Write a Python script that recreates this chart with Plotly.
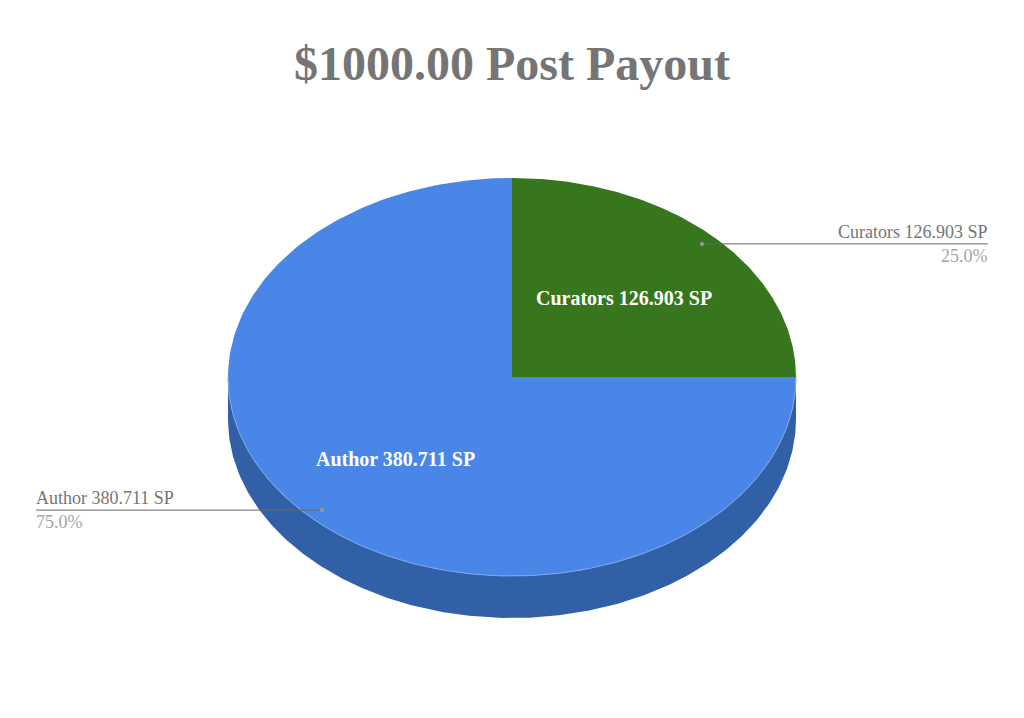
import numpy as np
import plotly.graph_objects as go

title = "$1000.00 Post Payout"
labels = ["Curators", "Author"]
values = [126.903, 380.711]
unit = "SP"

# colours per slice, same order as labels
colors = ["#38761d", "#4a86e8"]
wall_color = "#3160a6"
edge_color = "#7ea8ee"
FONT = "Liberation Serif"

# the pie is drawn by hand because go.Pie can't do the squashed 3d look
WIDTH, HEIGHT = 1024, 718
CX, CY = 512, 377
RX, RY = 284, 199
DEPTH = 42


def arc(start, end, dy=0):
    """Points on the ellipse, angles in degrees clockwise from 12 o'clock"""
    t = np.radians(np.linspace(start, end, 240))
    return CX + RX * np.sin(t), CY - RY * np.cos(t) + dy


def at_angle(angle, frac):
    t = np.radians(angle)
    return CX + RX * frac * np.sin(t), CY - RY * frac * np.cos(t)


fig = go.Figure()

# side wall, only the front half is visible
bx, by = arc(90, 270, DEPTH)
tx, ty = arc(270, 90)
fig.add_trace(go.Scatter(
    x=np.concatenate([bx, tx]), y=np.concatenate([by, ty]),
    mode="lines", fill="toself", fillcolor=wall_color,
    line=dict(width=0), hoverinfo="skip",
))

total = sum(values)
shares = [v / total for v in values]
start = 0
mids = []
for label, value, share, color in zip(labels, values, shares, colors):
    end = start + share * 360
    ax, ay = arc(start, end)
    fig.add_trace(go.Scatter(
        x=np.concatenate([[CX], ax, [CX]]), y=np.concatenate([[CY], ay, [CY]]),
        mode="lines", fill="toself", fillcolor=color,
        line=dict(width=0), name=label,
        hovertemplate=f"{label} {value} {unit}<br>{share:.1%}<extra></extra>",
    ))
    mids.append((start + end) / 2)
    start = end

# thin light rim where the top meets the wall
rx_, ry_ = arc(90, 270)
fig.add_trace(go.Scatter(
    x=rx_, y=ry_, mode="lines",
    line=dict(color=edge_color, width=1), hoverinfo="skip",
))

# label inside each slice plus leader line out to the side
inner_frac = [0.56, 0.58]
for label, value, share, mid, frac in zip(labels, values, shares, mids, inner_frac):
    text = f"{label} {value} {unit}"
    ix, iy = at_angle(mid, frac)
    fig.add_annotation(
        x=ix, y=iy, text=f"<b>{text}</b>", showarrow=False,
        font=dict(family=FONT, size=20, color="white"),
    )

    px, py = at_angle(mid, 0.946)
    right_side = np.sin(np.radians(mid)) > 0
    end_x = 988 if right_side else 36
    anchor = "right" if right_side else "left"
    nudge = 2 if right_side else -2
    fig.add_trace(go.Scatter(
        x=[px, end_x], y=[py, py], mode="lines",
        line=dict(color="#666666", width=1), hoverinfo="skip",
    ))
    fig.add_trace(go.Scatter(
        x=[px], y=[py], mode="markers",
        marker=dict(color="#9a9a9a", size=4), hoverinfo="skip",
    ))
    fig.add_annotation(
        x=end_x, y=py, text=text, showarrow=False,
        xanchor=anchor, yanchor="bottom", xshift=nudge, yshift=0,
        font=dict(family=FONT, size=18, color="#757575"),
    )
    fig.add_annotation(
        x=end_x, y=py, text=f"{share:.1%}", showarrow=False,
        xanchor=anchor, yanchor="top", xshift=nudge, yshift=0,
        font=dict(family=FONT, size=18, color="#a6a6a6"),
    )

fig.update_layout(
    width=WIDTH, height=HEIGHT,
    margin=dict(l=0, r=0, t=0, b=0),
    paper_bgcolor="white", plot_bgcolor="white",
    showlegend=False,
    title=dict(
        text=f"<b>{title}</b>", x=0.5, xanchor="center",
        y=0.912, yanchor="middle",
        font=dict(family=FONT, size=48, color="#757575"),
    ),
    xaxis=dict(range=[0, WIDTH], visible=False, fixedrange=True),
    yaxis=dict(range=[HEIGHT, 0], visible=False, fixedrange=True),
)

# page body has a default 8px margin that shifts everything
fig.write_html(
    "out.html",
    config={"displayModeBar": False},
    post_script="document.body.style.margin = '0';",
)
